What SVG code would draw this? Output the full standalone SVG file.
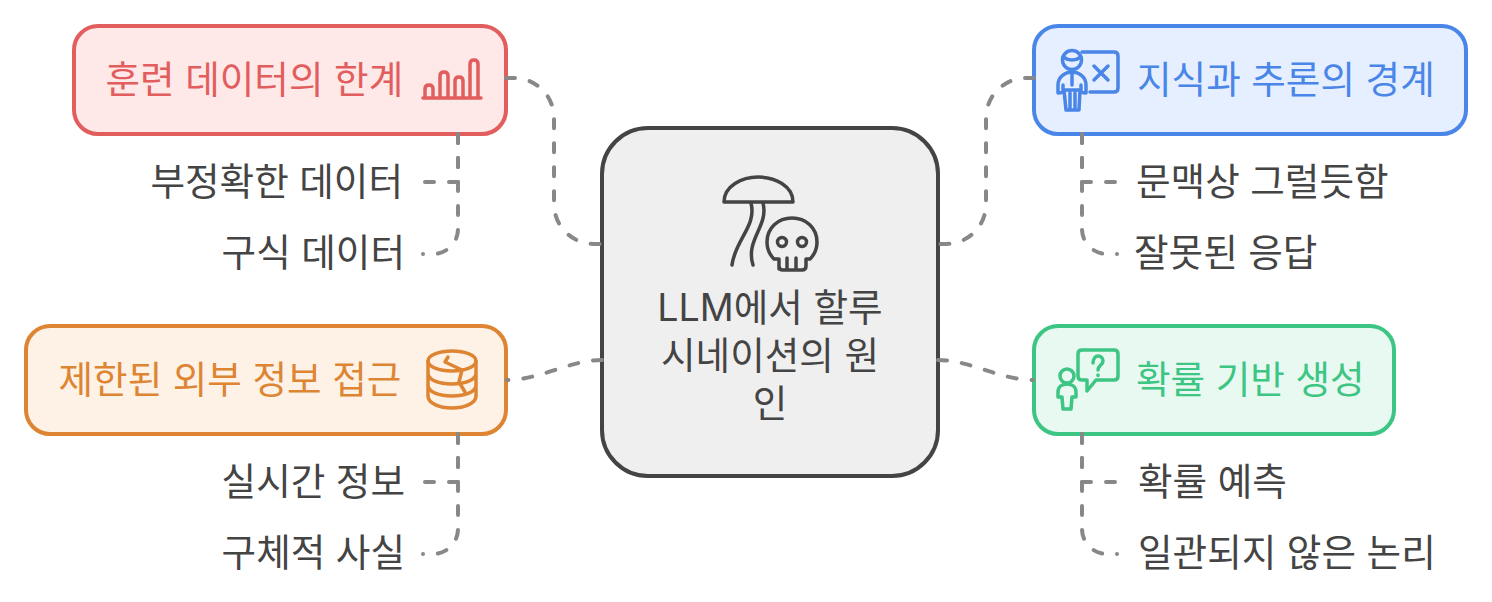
<svg xmlns="http://www.w3.org/2000/svg" width="1492" height="602" viewBox="0 0 1492 602">
<style>
text{font-family:"Inter","Noto Sans CJK KR","Noto Sans",sans-serif;font-size:37.6px;fill:#444}
.box{stroke-width:4}
.ic{fill:none;stroke-width:3.5;stroke-linecap:round;stroke-linejoin:round}
.c{fill:none;stroke:#888;stroke-width:4;stroke-dasharray:9 15;stroke-linecap:round}
</style>
<rect width="1492" height="602" fill="#fff"/>
<g id="center">
<rect class="box" x="602" y="128" width="336" height="348" rx="46" fill="#efefef" stroke="#444"/>
<g class="ic" stroke="#444">
<path d="M724 202C724 186 742 177 758 177C775 177 793 186 793 202Z"/>
<path d="M751 203C757 226 735 240 732 265M763 203C769 226 745 240 753 265"/>
<path d="M779 269V259H774C769 254 767 248 767 242C767 228 778 218 792 218C806 218 817 228 817 242C817 248 815 254 810 259H806V266Q806 270 802 270H783Q779 270 779 266ZM787 258V269M796 258V269"/>
<circle cx="782" cy="242" r="4.5"/><circle cx="802" cy="242" r="4.5"/>
</g>
<text x="770" y="321" text-anchor="middle">LLM에서 할루</text>
<text x="770" y="369" text-anchor="middle">시네이션의 원</text>
<text x="770" y="417" text-anchor="middle">인</text>
</g>
<g id="training">
<rect class="box" x="74" y="26" width="432" height="108" rx="24" fill="#ffe8e8" stroke="#e25d5d"/>
<text x="105.500" y="93" style="fill:#e25d5d">훈련 데이터의 한계</text>
<g class="ic" stroke="#e25d5d">
<path d="M423 98H481M425 98V89Q425 85 429 85Q433 85 433 89V98M440 98V76Q440 72 444 72Q448 72 448 76V98M455 98V81Q455 77 459 77Q463 77 463 81V98M470 98V64Q470 60 474 60Q478 60 478 64V98"/>
</g>
</g>
<g id="training-a"><text x="403" y="195" text-anchor="end">부정확한 데이터</text></g>
<g id="training-b"><text x="405" y="266" text-anchor="end">구식 데이터</text></g>
<g id="access">
<rect class="box" x="26" y="326" width="480" height="108" rx="24" fill="#fef1e6" stroke="#dd8533"/>
<text x="58.500" y="393" style="fill:#dd8533">제한된 외부 정보 접근</text>
<g class="ic" stroke="#dd8533">
<ellipse cx="452" cy="361" rx="24" ry="10"/>
<path d="M428 361V396C428 403 439 408 452 408C465 408 476 403 476 396V361M428 373C428 380 439 384 452 384C465 384 476 380 476 373M428 385C428 392 439 396 452 396C465 396 476 392 476 385"/>
<path d="M448 357L445 362L462 370L459 382L465 392"/>
</g>
</g>
<g id="access-a"><text x="405" y="495" text-anchor="end">실시간 정보</text></g>
<g id="access-b"><text x="405" y="566" text-anchor="end">구체적 사실</text></g>
<g id="knowledge">
<rect class="box" x="1034" y="26" width="432" height="108" rx="24" fill="#e5efff" stroke="#4a86e8"/>
<text x="1137" y="93" style="fill:#4a86e8">지식과 추론의 경계</text>
<g class="ic" stroke="#4a86e8">
<circle cx="1072" cy="60" r="9.5"/>
<path d="M1063 57Q1072 63 1081 57M1082 52H1114Q1118 52 1118 56V88Q1118 92 1114 92H1090M1094 66L1108 80M1108 66L1094 80"/>
<path d="M1058 93V85C1058 77 1065 72 1072 72C1079 72 1086 77 1086 85V93M1058 93Q1060 93 1063 92V85M1086 93Q1084 93 1081 92V85M1072 72V85M1063 90H1081M1064 90L1066 110H1079L1080 90M1070 93V108M1075 93V108"/>
</g>
</g>
<g id="knowledge-a"><text x="1136" y="195">문맥상 그럴듯함</text></g>
<g id="knowledge-b"><text x="1134" y="266">잘못된 응답</text></g>
<g id="probability">
<rect class="box" x="1034" y="326" width="360" height="108" rx="24" fill="#e8f9f1" stroke="#3cc583"/>
<text x="1136" y="393" style="fill:#3cc583">확률 기반 생성</text>
<g class="ic" stroke="#3cc583">
<circle cx="1067" cy="376" r="7"/>
<path d="M1063 409L1062 397H1058V392C1058 387 1062 384 1067 384C1072 384 1076 387 1076 392V397H1072L1071 409Z"/>
<path d="M1082 350H1114Q1118 350 1118 354V376Q1118 380 1114 380H1096L1087 391V380H1082Q1078 380 1078 376V354Q1078 350 1082 350Z"/>
<path d="M1093 363C1093 358 1096 356 1098 356C1101 356 1103 358 1103 361C1103 365 1098 365 1098 370M1098 375V375.5"/>
</g>
</g>
<g id="probability-a"><text x="1138" y="495">확률 예측</text></g>
<g id="probability-b"><text x="1138" y="566">일관되지 않은 논리</text></g>
<g id="connectors">
<path class="c" d="M506 78H514A40 40 0 0 1 554 118V204A40 40 0 0 0 594 244H602"/>
<path class="c" d="M458 134V182H423"/>
<path class="c" d="M458 134V229A25 25 0 0 1 433 254H423"/>
<path class="c" d="M602 360C570 360 540 380 507 380"/>
<path class="c" d="M458 434V482H423"/>
<path class="c" d="M458 434V529A25 25 0 0 1 433 554H423"/>
<path class="c" d="M1034 78H1026A40 40 0 0 0 986 118V204A40 40 0 0 1 946 244H938"/>
<path class="c" d="M1082 134V182H1117"/>
<path class="c" d="M1082 134V229A25 25 0 0 0 1107 254H1117"/>
<path class="c" d="M938 360C970 360 1000 380 1033 380"/>
<path class="c" d="M1082 434V482H1117"/>
<path class="c" d="M1082 434V529A25 25 0 0 0 1107 554H1117"/>
</g>
</svg>
